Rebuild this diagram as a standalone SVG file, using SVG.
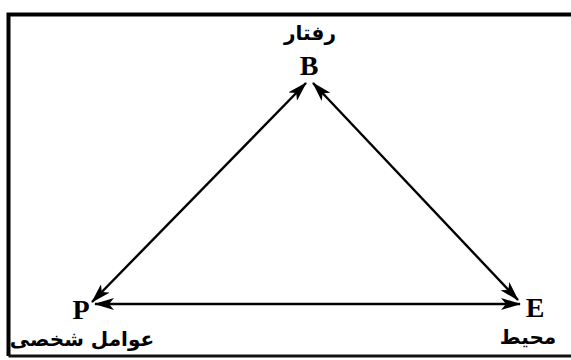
<svg xmlns="http://www.w3.org/2000/svg" width="571" height="360" viewBox="0 0 571 360">
<style>
.lat{font-family:"Liberation Serif","DejaVu Serif",serif;font-size:28px;font-weight:bold;fill:#000}
.ar{font-family:"DejaVu Sans",sans-serif;font-size:20px;font-weight:bold;fill:#000}
.con{stroke:#000;stroke-width:2.4;fill:none;marker-start:url(#ah);marker-end:url(#ah)}
</style>
<defs>
<marker id="ah" viewBox="0 0 20 12" refX="19" refY="6" markerWidth="20" markerHeight="12" markerUnits="userSpaceOnUse" orient="auto-start-reverse">
<path d="M0,0 L20,6 L0,12 L5,6 Z" fill="#000"/>
</marker>
</defs>
<rect width="571" height="360" fill="#fff"/>
<path d="M8.5,356 L8.5,14.5 L575,14.5" stroke="#000" stroke-width="4" fill="none"/>
<path d="M8.5,356 L575,356" stroke="#111" stroke-width="3" fill="none"/>
<g id="connectors">
<line class="con" x1="92" y1="302" x2="306" y2="83"/>
<line class="con" x1="313" y1="83" x2="518" y2="300"/>
<line class="con" x1="95" y1="304" x2="520" y2="304"/>
</g>
<g id="node-B">
<text class="ar" x="310" y="40" text-anchor="middle" direction="rtl">رفتار</text>
<text class="lat" x="309" y="75" text-anchor="middle">B</text>
</g>
<g id="node-P">
<text class="lat" x="81" y="319" text-anchor="middle">P</text>
<text class="ar" x="82" y="346" text-anchor="middle" direction="rtl">عوامل شخصی</text>
</g>
<g id="node-E">
<text class="lat" x="535" y="317" text-anchor="middle">E</text>
<text class="ar" x="528" y="344" text-anchor="middle" direction="rtl">محیط</text>
</g>
</svg>
